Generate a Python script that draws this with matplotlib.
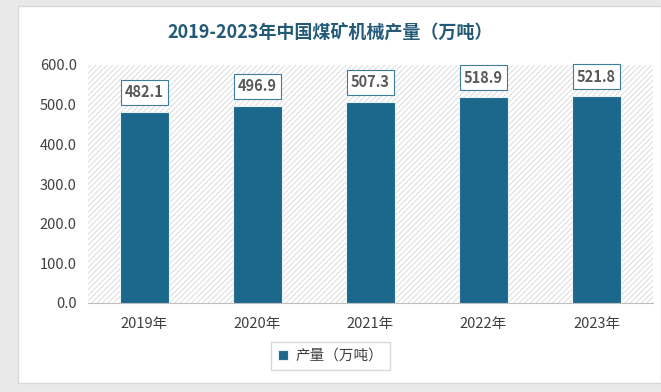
import matplotlib
matplotlib.use("Agg")
import matplotlib.pyplot as plt
from matplotlib.patches import Rectangle

plt.rcParams['font.family'] = ['Noto Sans CJK SC', 'DejaVu Sans']
plt.rcParams['hatch.linewidth'] = 0.6

years = ['2019年', '2020年', '2021年', '2022年', '2023年']
values = [482.1, 496.9, 507.3, 518.9, 521.8]
yticks = [0, 100, 200, 300, 400, 500, 600]
title = '2019-2023年中国煤矿机械产量（万吨）'
series_name = '产量（万吨）'

W, H = 661, 392
fig = plt.figure(figsize=(W/100, H/100), dpi=100, facecolor='#e9e9e9')

# card
fig.patches.append(Rectangle((18/W, 9/H), (W-18)/W, (H-6-9)/H, transform=fig.transFigure,
                             facecolor='white', edgecolor='#d8d8d8', lw=1, zorder=-5))

ax = fig.add_axes([88/W, (H-303)/H, (653-88)/W, (303-65)/H])
ax.set_zorder(2)
ax.set_facecolor('white')
ax.add_patch(Rectangle((0, 0), 1, 1, transform=ax.transAxes, facecolor='white',
                       edgecolor='#d6d6d6', lw=0, hatch='//////', zorder=0))

x = range(len(years))
bars = ax.bar(x, values, width=0.43, color='#1c688d', edgecolor='#e8f0f4', linewidth=0.8,
              zorder=3, label=series_name)
ax.set_xlim(-0.5, len(years) - 0.5)
ax.set_ylim(0, 600)
ax.set_yticks(yticks)
ax.set_yticklabels([f'{v:.1f}' for v in yticks], fontsize=10.5, color='#404040')
ax.set_xticks(list(x))
ax.set_xticklabels(years, fontsize=10.5, color='#404040')
ax.tick_params(length=0, pad=8)
for s in ['top', 'right', 'left']:
    ax.spines[s].set_visible(False)
ax.spines['bottom'].set_color('#bfbfbf')
ax.tick_params(axis='x', pad=10)

for xi, v in zip(x, values):
    ax.annotate(f'{v:.1f}', (xi, v), xytext=(0, 14), textcoords='offset points',
                ha='center', va='center', fontsize=10.5, fontweight='bold', color='#595959',
                bbox=dict(boxstyle='square,pad=0.3', facecolor='white', edgecolor='#3b7e9e', lw=0.8),
                zorder=5)

fig.text(0.5, (H-33)/H, title, ha='center', va='center', fontsize=13, fontweight='bold',
         color='#235a78', zorder=3)

leg = fig.legend(handles=[bars], labels=[series_name], loc='center', bbox_to_anchor=(0.5, (H-356)/H),
                 fontsize=10.5, frameon=True, fancybox=False, edgecolor='#d0d0d0',
                 handlelength=0.7, handleheight=0.7, handletextpad=0.5, borderpad=0.5)
leg.set_zorder(3)
for t in leg.get_texts():
    t.set_color('#404040')

fig.savefig('out.png', dpi=100, facecolor=fig.get_facecolor())
